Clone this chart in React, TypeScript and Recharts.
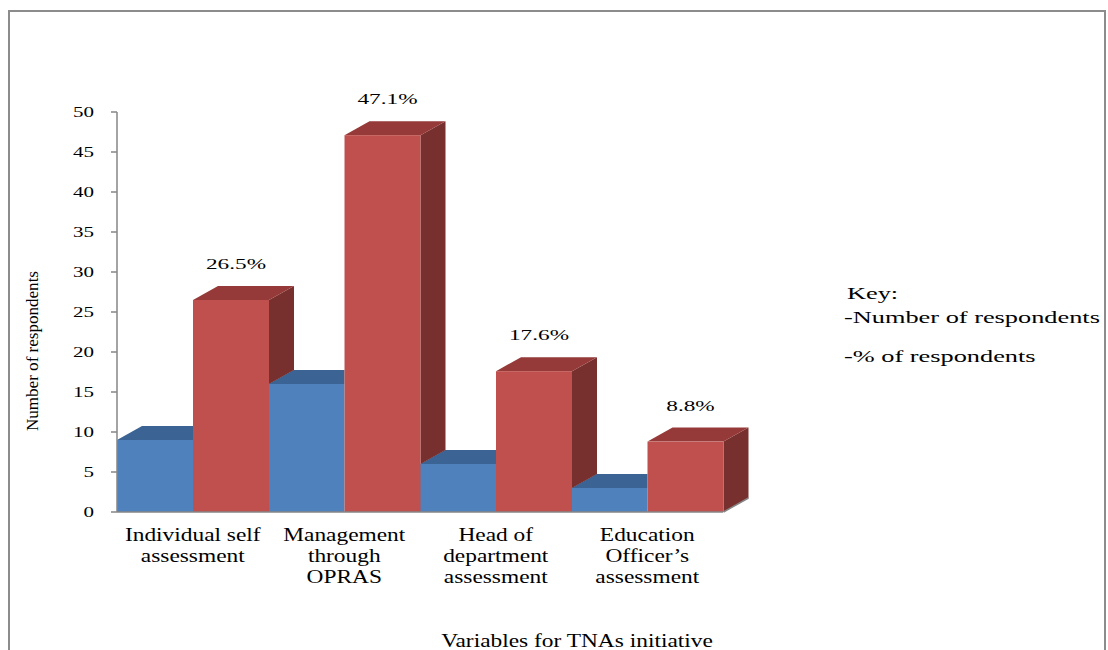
import React from 'react';
import { BarChart, Bar, XAxis, YAxis, LabelList } from 'recharts';

// Training-needs-assessment initiatives and the responses they drew
const categories = [
  'Individual self assessment',
  'Management through OPRAS',
  'Head of department assessment',
  'Education Officer’s assessment',
];
const categoryLines: string[][] = [
  ['Individual self', 'assessment'],
  ['Management', 'through', 'OPRAS'],
  ['Head of', 'department', 'assessment'],
  ['Education', 'Officer’s', 'assessment'],
];
const respondents = [9, 16, 6, 3];
const percentOfRespondents = [26.5, 47.1, 17.6, 8.8];
const yTicks = [0, 5, 10, 15, 20, 25, 30, 35, 40, 45, 50];

const data = categories.map((category, i) => ({
  category,
  respondents: respondents[i],
  percent: percentOfRespondents[i],
}));

const SERIF = '"Liberation Serif", "Times New Roman", Tinos, "DejaVu Serif", serif';
const serifStyle = { fontFamily: SERIF } as React.CSSProperties;
const AXIS_GRAY = '#868686';

// depth of the extruded columns
const DX = 25;
const DY = 14;

const BLUE_FRONT = '#4F81BD';
const BLUE_TOP = '#3B6494';
const RED_FRONT = '#C0504D';
const RED_TOP = '#953A38';
const RED_SIDE = '#78302E';

function BlueColumn(props: any) {
  const { x, y, width, height } = props;
  if (!(height > 0)) return null;
  // the top face stops where the neighbouring red column starts
  const top = `${x},${y} ${x + width},${y} ${x + width},${y - DY} ${x + DX},${y - DY}`;
  return (
    <g>
      <polygon points={top} fill={BLUE_TOP} />
      <rect x={x} y={y} width={width} height={height} fill={BLUE_FRONT} />
    </g>
  );
}

function RedColumn(props: any) {
  const { x, y, width, height, index } = props;
  if (!(height > 0)) return null;
  const base = y + height;
  const perUnit = height / percentOfRespondents[index];
  const right = x + width;
  const top = `${x},${y} ${right},${y} ${right + DX},${y - DY} ${x + DX},${y - DY}`;
  const next = respondents[index + 1];
  let side: string;
  let floor: React.ReactNode = null;
  if (next !== undefined) {
    // the next category's blue column hides the lower part of this side face
    const yb = base - next * perUnit;
    side = `${right},${y} ${right + DX},${y - DY} ${right + DX},${yb - DY} ${right},${yb}`;
  } else {
    side = `${right},${y} ${right + DX},${y - DY} ${right + DX},${base - DY} ${right},${base}`;
    floor = (
      <line x1={right} y1={base} x2={right + DX} y2={base - DY} stroke={AXIS_GRAY} strokeWidth={1.5} />
    );
  }
  return (
    <g>
      <polygon points={side} fill={RED_SIDE} />
      <polygon points={top} fill={RED_TOP} />
      <rect x={x} y={y} width={width} height={height} fill={RED_FRONT} />
      {floor}
    </g>
  );
}

function PercentLabel(props: any) {
  const { x, y, width, value } = props;
  const cx = x + width / 2 + 5;
  return (
    <text
      transform={`translate(${cx},${y - 31}) scale(1.5,1)`}
      textAnchor="middle"
      style={serifStyle}
      fontSize={15.5}
      fill="#000"
    >
      {`${Number(value).toFixed(1)}%`}
    </text>
  );
}

function YTick(props: any) {
  const { x, y, payload } = props;
  return (
    <text
      transform={`translate(${x},${y + 4.8}) scale(1.5,1)`}
      textAnchor="end"
      style={serifStyle}
      fontSize={14}
      fill="#000"
    >
      {payload.value}
    </text>
  );
}

function XTick(props: any) {
  const { x, y, payload } = props;
  const idx = categories.indexOf(payload.value);
  const lines = idx >= 0 ? categoryLines[idx] : [String(payload.value)];
  return (
    <g>
      {lines.map((line, i) => (
        <text
          key={i}
          transform={`translate(${x},${y + 21 + i * 21}) scale(1.3,1)`}
          textAnchor="middle"
          style={serifStyle}
          fontSize={18}
          fill="#000"
        >
          {line}
        </text>
      ))}
    </g>
  );
}

export default function App() {
  return (
    <div
      style={{
        position: 'absolute',
        left: 0,
        top: 0,
        width: 1108,
        height: 650,
        overflow: 'hidden',
        background: '#fff',
        fontFamily: SERIF,
      }}
    >
      <BarChart
        width={1108}
        height={650}
        data={data}
        margin={{ top: 112, right: 385, bottom: 108, left: 57 }}
        barCategoryGap={0}
        barGap={0}
      >
        <Bar dataKey="respondents" shape={BlueColumn} isAnimationActive={false} />
        <Bar dataKey="percent" shape={RedColumn} isAnimationActive={false}>
          <LabelList dataKey="percent" content={PercentLabel} />
        </Bar>
        <XAxis
          dataKey="category"
          height={30}
          tickLine={false}
          axisLine={{ stroke: AXIS_GRAY, strokeWidth: 1.5 }}
          tick={XTick}
          interval={0}
        />
        <YAxis
          width={60}
          domain={[0, 50]}
          ticks={yTicks}
          interval={0}
          tickSize={6}
          tickMargin={17}
          tickLine={{ stroke: AXIS_GRAY, strokeWidth: 1.5 }}
          axisLine={{ stroke: AXIS_GRAY, strokeWidth: 1.5 }}
          tick={YTick}
        />
      </BarChart>
      <svg
        width={1108}
        height={650}
        style={{ position: 'absolute', left: 0, top: 0, pointerEvents: 'none' }}
      >
        <rect x={9} y={11} width={1096} height={700} fill="none" stroke="#8c8c8c" strokeWidth={2} />
        <text
          transform="translate(38,351) rotate(-90)"
          textAnchor="middle"
          style={serifStyle}
          fontSize={17}
          textLength={160}
          lengthAdjust="spacingAndGlyphs"
          fill="#000"
        >
          Number of respondents
        </text>
        <text
          transform="translate(577,647) scale(1.3,1)"
          textAnchor="middle"
          style={serifStyle}
          fontSize={18}
          fill="#000"
        >
          Variables for TNAs initiative
        </text>
        <g style={serifStyle} fontSize={17} fill="#000">
          <text transform="translate(847,299) scale(1.55,1)">Key:</text>
          <text transform="translate(844,323) scale(1.55,1)">-Number of respondents</text>
          <text transform="translate(844,362) scale(1.55,1)">-% of respondents</text>
        </g>
      </svg>
    </div>
  );
}
